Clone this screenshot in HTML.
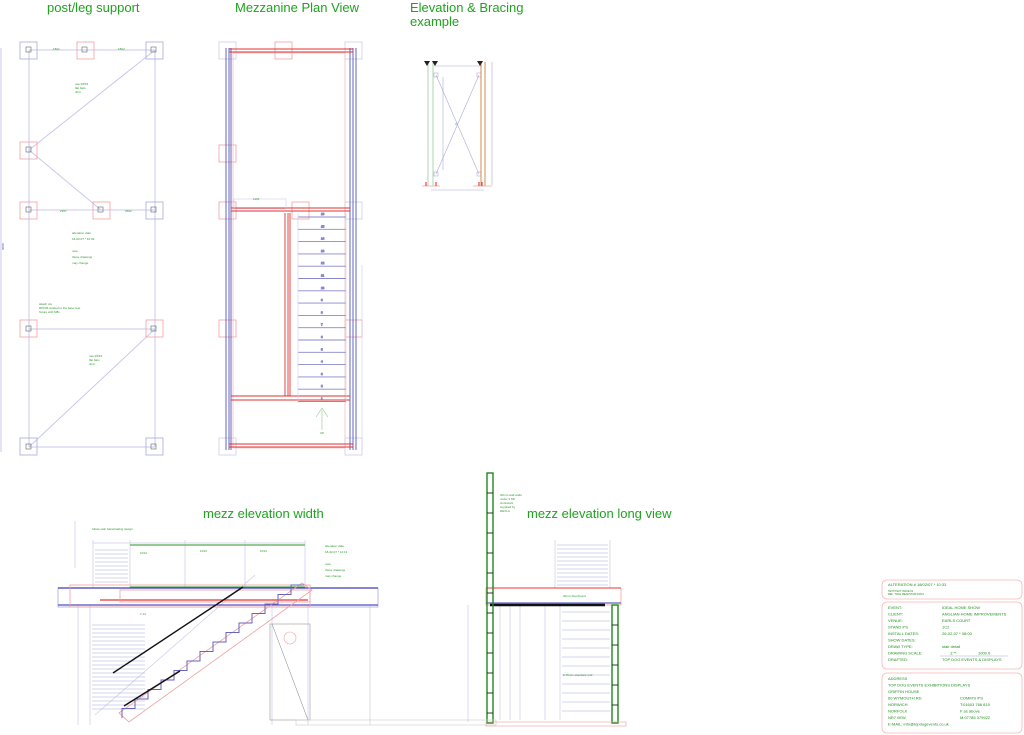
<!DOCTYPE html>
<html><head><meta charset="utf-8">
<style>
html,body{margin:0;padding:0;background:#fff;}
svg{display:block;font-family:"Liberation Sans",sans-serif;}
.t{font-family:"Liberation Sans",sans-serif;fill:#2a9d2a;}
.h{font-family:"Liberation Sans",sans-serif;fill:#1fa31f;font-size:13px;}
.s{font-size:3px;fill:#2a9d2a;}
.tb{font-size:4px;fill:#1f8f1f;}
</style></head><body>
<svg id="s" width="1024" height="735" viewBox="0 0 1024 735" xmlns="http://www.w3.org/2000/svg">
<rect width="1024" height="735" fill="#fff"/>
<!-- titles -->
<text class="h" x="47" y="12">post/leg support</text>
<text class="h" x="235" y="12">Mezzanine Plan View</text>
<text class="h" x="410" y="12">Elevation &amp; Bracing</text>
<text class="h" x="410" y="26">example</text>
<text class="h" x="203" y="518">mezz elevation width</text>
<text class="h" x="527" y="518">mezz elevation long view</text>

<!-- POST/LEG SUPPORT -->
<g stroke="#c8c8ee" stroke-width="1" fill="none">
<line x1="29" y1="50" x2="29" y2="447"/><line x1="155" y1="50" x2="155" y2="447"/>
<line x1="29" y1="50" x2="155" y2="50"/><line x1="29" y1="210" x2="155" y2="210"/>
<line x1="29" y1="329" x2="155" y2="329"/><line x1="29" y1="447" x2="155" y2="447"/>
<line x1="29" y1="150" x2="155" y2="50"/><line x1="29" y1="150" x2="101" y2="210"/>
<line x1="29" y1="447" x2="155" y2="329"/>
<line x1="1" y1="48" x2="1" y2="452"/>
</g>
<g fill="none" stroke-width="0.8">
<rect x="20" y="42" width="17" height="17" stroke="#aaaadd"/><rect x="77" y="42" width="17" height="17" stroke="#f0a0a0"/><rect x="146" y="42" width="17" height="17" stroke="#aaaadd"/>
<rect x="20" y="142" width="17" height="17" stroke="#f0a0a0"/>
<rect x="20" y="202" width="17" height="17" stroke="#f0a0a0"/><rect x="93" y="202" width="17" height="17" stroke="#f0a0a0"/><rect x="146" y="202" width="17" height="17" stroke="#aaaadd"/>
<rect x="20" y="320" width="17" height="17" stroke="#f0a0a0"/><rect x="146" y="320" width="17" height="17" stroke="#f0a0a0"/>
<rect x="20" y="438" width="17" height="17" stroke="#aaaadd"/><rect x="146" y="438" width="17" height="17" stroke="#aaaadd"/>
</g>
<g fill="none" stroke="#666" stroke-width="0.6">
<rect x="26" y="47" width="5" height="5"/><rect x="82" y="47" width="5" height="5"/><rect x="151" y="47" width="5" height="5"/>
<rect x="26" y="147" width="5" height="5"/><rect x="26" y="207" width="5" height="5"/><rect x="98" y="207" width="5" height="5"/><rect x="151" y="207" width="5" height="5"/>
<rect x="26" y="326" width="5" height="5"/><rect x="151" y="326" width="5" height="5"/><rect x="26" y="444" width="5" height="5"/><rect x="151" y="444" width="5" height="5"/>
</g>
<g class="s">
<text x="72" y="234">alteration date</text><text x="72" y="240">18-02-07 * 10:39</text>
<text x="72" y="252">note</text><text x="72" y="258">these drawings</text><text x="72" y="264">may change</text>
<text x="75" y="85">use RPF4</text><text x="75" y="89">flat bars</text><text x="75" y="93">4mtr</text>
<text x="89" y="357">use RPF4</text><text x="89" y="361">flat bars</text><text x="89" y="365">4mtr</text>
<text x="39" y="305">attach via</text><text x="39" y="309">RPF36 welded to the base feet</text><text x="39" y="313">fixture with M8x</text>
<text x="53" y="50">1802</text><text x="118" y="50">1802</text><text x="60" y="212">2367</text><text x="125" y="212">2602</text>
</g>
<text x="4" y="250" font-size="3" fill="#4444cc" transform="rotate(-90 4 250)">6008</text>

<!-- MEZZANINE PLAN -->
<g fill="none" stroke-width="0.8">
<rect x="219" y="42" width="17" height="17" stroke="#ccccee"/><rect x="275" y="42" width="17" height="17" stroke="#f0a0a0"/><rect x="345" y="42" width="17" height="17" stroke="#ccccee"/>
<rect x="219" y="145" width="17" height="17" stroke="#f0a0a0"/><rect x="219" y="202" width="17" height="17" stroke="#f0a0a0"/><rect x="292" y="202" width="17" height="17" stroke="#f0a0a0"/><rect x="345" y="202" width="17" height="17" stroke="#ccccee"/>
<rect x="219" y="320" width="17" height="17" stroke="#f0a0a0"/><rect x="345" y="320" width="17" height="17" stroke="#f0a0a0"/>
<rect x="219" y="438" width="17" height="17" stroke="#ccccee"/><rect x="345" y="438" width="17" height="17" stroke="#ccccee"/>
<rect x="233" y="53" width="112" height="395" stroke="#f6c0c0"/>
</g>
<g stroke="#5555bb" stroke-width="0.9">
<line x1="226" y1="48" x2="226" y2="450"/><line x1="229" y1="48" x2="229" y2="450"/><line x1="231" y1="48" x2="231" y2="450"/>
<line x1="350" y1="48" x2="350" y2="450"/><line x1="353" y1="48" x2="353" y2="450"/><line x1="356" y1="48" x2="356" y2="450"/>
</g>
<g stroke="#e03030" stroke-width="0.9">
<line x1="229" y1="49" x2="353" y2="49"/><line x1="229" y1="52" x2="353" y2="52"/>
<line x1="231" y1="208" x2="350" y2="208"/><line x1="231" y1="211" x2="350" y2="211"/>
<line x1="231" y1="396" x2="350" y2="396"/><line x1="231" y1="400" x2="350" y2="400"/>
<line x1="229" y1="444" x2="353" y2="444"/><line x1="229" y1="447" x2="353" y2="447"/>
<line x1="285" y1="213" x2="285" y2="396"/><line x1="288" y1="213" x2="288" y2="396"/><line x1="290" y1="213" x2="290" y2="396"/>
</g>
<g id="stairs" stroke="#8888cc" stroke-width="0.9"></g>
<g stroke="#ccccee" fill="none" stroke-width="0.6">
<line x1="298" y1="213" x2="298" y2="403"/><line x1="346" y1="213" x2="346" y2="403"/>
<rect x="234" y="199" width="52" height="10"/>
<line x1="362" y1="265" x2="362" y2="450"/>
</g>
<g stroke="#88cc88" stroke-width="0.6" fill="none"><line x1="322" y1="410" x2="322" y2="430"/><polyline points="316,417 322,408 328,417"/></g>
<text x="320" y="434" class="s">UP</text>
<text x="253" y="200" class="s">1164</text>

<!-- ELEVATION & BRACING -->
<g stroke="#aaaadd" stroke-width="0.6" fill="none">
<line x1="434" y1="66" x2="482" y2="66"/><line x1="436" y1="75" x2="479" y2="174"/><line x1="479" y1="75" x2="436" y2="174"/>
<rect x="434" y="73" width="4" height="4"/><rect x="477" y="73" width="4" height="4"/><rect x="434" y="172" width="4" height="4"/><rect x="477" y="172" width="4" height="4"/>
<line x1="443" y1="77" x2="443" y2="170"/><line x1="492" y1="62" x2="492" y2="185"/>
<line x1="431" y1="190" x2="484" y2="190"/>
</g>
<g stroke="#9c9" stroke-width="0.8"><line x1="428" y1="62" x2="428" y2="186"/><line x1="433" y1="62" x2="433" y2="186"/></g>
<g stroke="#d08040" stroke-width="0.9"><line x1="481" y1="62" x2="481" y2="186"/><line x1="485" y1="62" x2="485" y2="186"/></g>
<g fill="#222"><polygon points="424,61 430,61 427,66"/><polygon points="432,61 438,61 435,66"/><polygon points="477,61 483,61 480,66"/></g>
<g stroke="#f0a0a0" stroke-width="0.8"><line x1="422" y1="186" x2="440" y2="186"/><line x1="473" y1="186" x2="492" y2="186"/></g>
<g stroke="#e02020"><line x1="426" y1="182" x2="426" y2="186"/><line x1="436" y1="182" x2="436" y2="186"/><line x1="479" y1="182" x2="479" y2="186"/><line x1="482" y1="182" x2="482" y2="186"/></g>
<text x="455" y="125" class="s">X</text>

<!-- MEZZ ELEVATION WIDTH -->
<g stroke="#ccccee" fill="none" stroke-width="0.7">
<line x1="93" y1="540" x2="93" y2="588"/><line x1="130" y1="540" x2="130" y2="588"/><line x1="185" y1="540" x2="185" y2="588"/><line x1="245" y1="540" x2="245" y2="588"/><line x1="305" y1="540" x2="305" y2="588"/>
<line x1="93" y1="543" x2="305" y2="543"/>
<line x1="78" y1="605" x2="78" y2="725"/><line x1="90" y1="605" x2="90" y2="725"/><line x1="272" y1="605" x2="272" y2="725"/><line x1="308" y1="605" x2="308" y2="725"/>
<line x1="370" y1="605" x2="370" y2="725"/>
<line x1="75" y1="521" x2="75" y2="568"/>
<line x1="255" y1="575" x2="95" y2="715"/>
</g>
<g id="rails" stroke="#aaaadd" stroke-width="0.5"></g>
<g stroke="#5a5" stroke-width="1.2"><line x1="130" y1="545" x2="305" y2="545"/><line x1="130" y1="587" x2="305" y2="587"/></g>
<rect x="58" y="588" width="320" height="19" fill="none" stroke="#aaaadd" stroke-width="0.8"/>
<g stroke-width="1.2">
<line x1="58" y1="588" x2="378" y2="588" stroke="#3b3bb5"/><line x1="58" y1="605" x2="378" y2="605" stroke="#5050c0"/>
<line x1="100" y1="600" x2="308" y2="600" stroke="#e33"/>
</g>
<g stroke="#f0a0a0" stroke-width="0.8" fill="none">
<rect x="70" y="585" width="240" height="22"/><rect x="120" y="590" width="190" height="12"/>
<polygon points="119,713 302,583 312,590 129,722"/>
</g>
<polyline id="zig" fill="none" stroke="#6666bb" stroke-width="1"/>
<g stroke="#111" stroke-width="1.4"><line x1="113" y1="673" x2="243" y2="587"/><line x1="124" y1="706" x2="180" y2="671"/></g>
<g stroke="#999" fill="none" stroke-width="0.6"><rect x="270" y="624" width="40" height="96"/><line x1="272" y1="624" x2="308" y2="720"/><circle cx="290" cy="638" r="6" stroke="#f0a0a0"/></g>
<g class="s">
<text x="92" y="530">follow stair balustrading design</text>
<text x="325" y="547">alteration date</text><text x="325" y="553">18-02-07 * 14:13</text>
<text x="325" y="565">note</text><text x="325" y="571">these drawings</text><text x="325" y="577">may change</text>
<text x="140" y="554">1034</text><text x="200" y="552">1034</text><text x="260" y="552">1034</text>
<text x="140" y="615">7.14</text>
</g>

<!-- MEZZ ELEVATION LONG VIEW -->
<g stroke="#ccccee" fill="none" stroke-width="0.7">
<line x1="555" y1="540" x2="555" y2="588"/><line x1="610" y1="540" x2="610" y2="588"/>
<line x1="545" y1="605" x2="545" y2="720"/><line x1="560" y1="605" x2="560" y2="720"/>
<line x1="500" y1="605" x2="500" y2="720"/><line x1="510" y1="605" x2="510" y2="720"/><line x1="520" y1="605" x2="520" y2="720"/>
<line x1="468" y1="605" x2="468" y2="722"/>
</g>
<g id="lrails" stroke="#aaaadd" stroke-width="0.5"></g>
<rect x="486" y="588" width="135" height="17" fill="none" stroke="#f0a0a0" stroke-width="0.8"/>
<line x1="486" y1="588" x2="621" y2="588" stroke="#e33" stroke-width="0.9"/>
<line x1="486" y1="603" x2="621" y2="603" stroke="#3b3bb5" stroke-width="1"/>
<line x1="490" y1="605" x2="605" y2="605" stroke="#111" stroke-width="2.5"/>
<rect x="487" y="473" width="6" height="250" fill="none" stroke="#1c8a1c" stroke-width="1.4"/>
<rect x="612" y="605" width="6" height="118" fill="none" stroke="#1c8a1c" stroke-width="1.4"/>
<g id="rungs" stroke="#222" stroke-width="0.9"></g>
<rect x="296" y="720" width="200" height="5" fill="none" stroke="#ccc" stroke-width="0.6"/>
<rect x="486" y="722" width="140" height="4" fill="none" stroke="#f0a0a0" stroke-width="0.6"/>
<g class="s"><text x="500" y="496">30mm wall walls</text><text x="500" y="500">under 2 Mtr</text><text x="500" y="504">clockwork</text><text x="500" y="508">supplied by</text><text x="500" y="512">DEVLA</text>
<text x="563" y="597">30mm floorboard</text><text x="563" y="676">9.75mm standard roof</text></g>

<!-- TITLE BLOCK -->
<g fill="none" stroke="#f4b8b8" stroke-width="0.8">
<rect x="882" y="580" width="140" height="19" rx="5"/>
<rect x="882" y="602" width="140" height="67" rx="5"/>
<rect x="882" y="673" width="140" height="60" rx="5"/>
</g>
<line x1="940" y1="656" x2="1008" y2="656" stroke="#aaaadd" stroke-width="0.6"/>
<g class="tb">
<text x="888" y="586">ALTERATION # 18/02/07 * 10:33</text>
<text x="888" y="592" font-size="2.5">TEXT/TEXT ISSUE #1</text><text x="888" y="595" font-size="2.5">REF: TCKE MEZZ/STAIR DCKA</text>
<text x="888" y="609">EVENT:</text><text x="942" y="609">IDEAL HOME SHOW</text>
<text x="888" y="615.5">CLIENT:</text><text x="942" y="615.5">ANGLIAN HOME IMPROVEMENTS</text>
<text x="888" y="622">VENUE:</text><text x="942" y="622">EARLS COURT</text>
<text x="888" y="628.5">STAND #'S</text><text x="942" y="628.5">1C2</text>
<text x="888" y="635">INSTALL DATES:</text><text x="942" y="635">26-02-07 * 08:00</text>
<text x="888" y="641.5">SHOW DATES:</text>
<text x="888" y="648">DRAW TYPE:</text><text x="942" y="648">stair detail</text>
<text x="888" y="654.5">DRAWING SCALE:</text><text x="950" y="654.5">1:**</text><text x="978" y="654.5">1000.0</text>
<text x="888" y="661">DRAFTED:</text><text x="942" y="661">TOP DOG EVENTS &amp; DISPLAYS</text>
<text x="888" y="680">ADDRESS</text>
<text x="888" y="686.5">TOP DOG EVENTS EXHIBITIONS DISPLAYS</text>
<text x="888" y="693">GRIFFIN HOUSE</text>
<text x="888" y="699.5">60 WYMOUTH RD</text><text x="960" y="699.5">COMM'S #'S</text>
<text x="888" y="706">NORWICH</text><text x="960" y="706">T:01603 766 815</text>
<text x="888" y="712.5">NORFOLK</text><text x="960" y="712.5">F as above</text>
<text x="888" y="719">NR7 0EW</text><text x="960" y="719">M:07785 379922</text>
<text x="888" y="725.5">E-MAIL: info@topdogevents.co.uk</text>
</g>
</svg>
<script>
var NS="http://www.w3.org/2000/svg";
function L(g,x1,y1,x2,y2,st){var l=document.createElementNS(NS,"line");l.setAttribute("x1",x1);l.setAttribute("y1",y1);l.setAttribute("x2",x2);l.setAttribute("y2",y2);if(st)l.setAttribute("stroke",st);g.appendChild(l);}
function T(g,x,y,s){var t=document.createElementNS(NS,"text");t.setAttribute("x",x);t.setAttribute("y",y);t.setAttribute("class","s");t.textContent=s;g.appendChild(t);}
var st=document.getElementById("stairs");
for(var i=0;i<16;i++){var y=217+i*12.3;L(st,298,y,346,y);T(st,321,y-2,String(16-i));}
var r=document.getElementById("rails");
for(var y=550;y<586;y+=4){L(r,95,y,128,y);}
for(var y=625;y<712;y+=4){L(r,92,y,145,y);}
var lr=document.getElementById("lrails");
for(var y=545;y<586;y+=4){L(lr,557,y,608,y);}
for(var y=612;y<718;y+=9){L(lr,562,y,610,y);}
var z=document.getElementById("zig"),p=[],x=122,y=718;
for(var k=0;k<14;k++){p.push(x+","+y);y-=9.5;p.push(x+","+y);x+=13;}
p.push(x+","+y);z.setAttribute("points",p.join(" "));
var rg=document.getElementById("rungs");
for(var y=493;y<720;y+=20){L(rg,487,y,493,y);}
for(var y=625;y<720;y+=20){L(rg,612,y,618,y);}
</script>
</body></html>
